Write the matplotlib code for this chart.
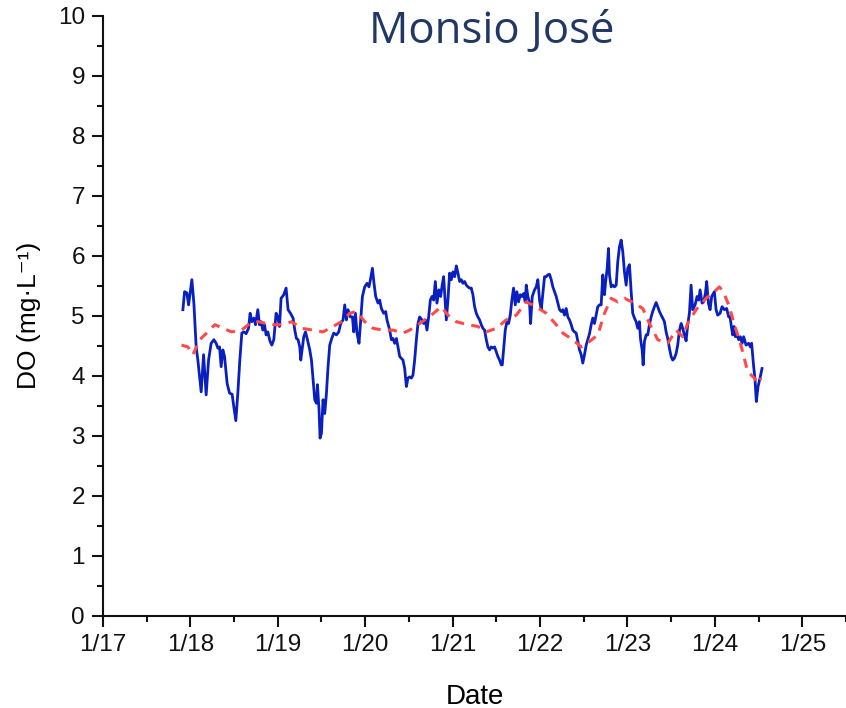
import numpy as np
import matplotlib
matplotlib.use("Agg")
import matplotlib.pyplot as plt
from matplotlib.ticker import MultipleLocator

plt.rcParams['font.family'] = ['Liberation Sans', 'DejaVu Sans']

# measured DO, time as years after 1 Jan 2017
do_t = 2017 + np.array([
    0.9143, 0.9337, 0.9600, 0.9794, 1.0171, 1.0400, 1.0663, 1.0857, 1.1234, 1.1509,
    1.1806, 1.2080, 1.2377, 1.2686, 1.2949, 1.3143, 1.3337, 1.3520, 1.3714, 1.3909,
    1.4206, 1.4480, 1.4777, 1.4971, 1.5200, 1.5429, 1.5657, 1.5886, 1.6114, 1.6377,
    1.6651, 1.6834, 1.7029, 1.7257, 1.7451, 1.7714, 1.7909, 1.8091, 1.8286, 1.8480,
    1.8663, 1.8857, 1.9120, 1.9314, 1.9543, 1.9806, 2.0000, 2.0194, 2.0377, 2.0686,
    2.0949, 2.1177, 2.1451, 2.1749, 2.1943, 2.2137, 2.2320, 2.2514, 2.2629, 2.2823,
    2.2971, 2.3166, 2.3394, 2.3657, 2.3851, 2.4034, 2.4229, 2.4423, 2.4537, 2.4720,
    2.4834, 2.4994, 2.5177, 2.5371, 2.5566, 2.5749, 2.5943, 2.6171, 2.6400, 2.6709,
    2.6971, 2.7200, 2.7463, 2.7657, 2.7851, 2.8034, 2.8309, 2.8537, 2.8686, 2.8880,
    2.9063, 2.9291, 2.9486, 2.9680, 2.9943, 3.0206, 3.0434, 3.0594, 3.0823, 3.1006,
    3.1200, 3.1463, 3.1657, 3.1851, 3.2114, 3.2343, 3.2491, 3.2800, 3.2994, 3.3177,
    3.3371, 3.3566, 3.3749, 3.3943, 3.4137, 3.4320, 3.4514, 3.4709, 3.4891, 3.5086,
    3.5280, 3.5463, 3.5657, 3.5851, 3.6034, 3.6229, 3.6491, 3.6686, 3.6880, 3.7063,
    3.7257, 3.7451, 3.7634, 3.7829, 3.8023, 3.8206, 3.8434, 3.8629, 3.8777, 3.8971,
    3.9166, 3.9280, 3.9463, 3.9657, 3.9851, 4.0034, 4.0229, 4.0423, 4.0606, 4.0800,
    4.0994, 4.1177, 4.1371, 4.1566, 4.1749, 4.1943, 4.2137, 4.2320, 4.2514, 4.2709,
    4.2891, 4.3086, 4.3280, 4.3463, 4.3657, 4.3851, 4.4034, 4.4229, 4.4423, 4.4606,
    4.4800, 4.4994, 4.5177, 4.5371, 4.5566, 4.5680, 4.5829, 4.6023, 4.6206, 4.6400,
    4.6594, 4.6777, 4.6971, 4.7166, 4.7349, 4.7543, 4.7737, 4.7920, 4.8114, 4.8309,
    4.8423, 4.8606, 4.8800, 4.8914, 4.9109, 4.9371, 4.9566, 4.9749, 4.9943, 5.0137,
    5.0320, 5.0514, 5.0709, 5.0891, 5.1086, 5.1280, 5.1463, 5.1657, 5.1851, 5.2034,
    5.2229, 5.2423, 5.2606, 5.2800, 5.2994, 5.3177, 5.3371, 5.3566, 5.3749, 5.3943,
    5.4137, 5.4320, 5.4514, 5.4709, 5.4891, 5.5086, 5.5280, 5.5463, 5.5657, 5.5851,
    5.6034, 5.6229, 5.6423, 5.6606, 5.6800, 5.6994, 5.7177, 5.7371, 5.7486, 5.7680,
    5.7829, 5.7943, 5.8137, 5.8320, 5.8514, 5.8709, 5.8891, 5.9086, 5.9280, 5.9463,
    5.9657, 5.9851, 6.0034, 6.0229, 6.0423, 6.0606, 6.0800, 6.0994, 6.1177, 6.1371,
    6.1486, 6.1680, 6.1794, 6.1943, 6.2137, 6.2320, 6.2514, 6.2709, 6.2891, 6.3086,
    6.3280, 6.3463, 6.3657, 6.3851, 6.4034, 6.4229, 6.4423, 6.4606, 6.4800, 6.4994,
    6.5177, 6.5371, 6.5566, 6.5749, 6.5943, 6.6137, 6.6320, 6.6514, 6.6709, 6.6891,
    6.7086, 6.7280, 6.7463, 6.7737, 6.7966, 6.8149, 6.8309, 6.8537, 6.8720, 6.8914,
    6.9063, 6.9257, 6.9451, 6.9634, 6.9943, 7.0137, 7.0320, 7.0594, 7.0823, 7.1086,
    7.1349, 7.1577, 7.1737, 7.1886, 7.2034, 7.2194, 7.2343, 7.2537, 7.2720, 7.2914,
    7.3109, 7.3291, 7.3566, 7.3863, 7.4057, 7.4206, 7.4400, 7.4594, 7.4743, 7.4937,
    7.5166, 7.5394])

do_val = np.array([
    5.10, 5.40, 5.38, 5.18, 5.60, 5.21, 4.48, 4.26, 3.73, 4.35,
    3.68, 4.26, 4.54, 4.60, 4.54, 4.46, 4.48, 4.15, 4.43, 4.32,
    3.87, 3.71, 3.69, 3.48, 3.25, 3.71, 4.26, 4.71, 4.73, 4.70,
    4.79, 5.04, 4.90, 4.96, 4.85, 5.10, 4.85, 4.90, 4.76, 4.85,
    4.68, 4.73, 4.57, 4.51, 4.60, 5.04, 4.98, 4.82, 5.29, 5.35,
    5.46, 5.10, 5.04, 4.96, 4.76, 4.62, 4.60, 4.48, 4.26, 4.48,
    4.65, 4.73, 4.60, 4.43, 4.26, 3.93, 3.60, 3.54, 3.85, 3.43,
    2.96, 3.04, 3.60, 3.37, 3.71, 4.15, 4.51, 4.62, 4.71, 4.68,
    4.73, 4.87, 4.93, 5.18, 4.93, 5.10, 4.98, 4.98, 4.73, 5.04,
    4.71, 4.54, 4.93, 5.32, 5.48, 5.54, 5.48, 5.60, 5.79, 5.54,
    5.32, 5.21, 5.26, 5.12, 5.04, 5.07, 4.93, 4.76, 4.60, 4.62,
    4.54, 4.62, 4.48, 4.32, 4.29, 4.26, 4.12, 3.82, 3.96, 3.98,
    3.96, 4.01, 4.26, 4.60, 4.87, 4.98, 4.93, 4.87, 4.93, 4.76,
    4.98, 5.26, 5.32, 5.26, 5.57, 5.21, 5.43, 5.32, 5.48, 5.65,
    5.21, 4.93, 5.26, 5.71, 5.60, 5.73, 5.65, 5.83, 5.71, 5.57,
    5.60, 5.54, 5.57, 5.51, 5.48, 5.46, 5.46, 5.35, 5.15, 5.04,
    4.98, 4.93, 4.85, 4.79, 4.76, 4.60, 4.48, 4.43, 4.48, 4.46,
    4.48, 4.40, 4.32, 4.26, 4.18, 4.18, 4.43, 4.76, 4.90, 4.87,
    5.01, 5.26, 5.46, 5.18, 5.40, 5.23, 5.35, 5.32, 5.37, 5.23,
    5.51, 5.32, 5.21, 4.87, 5.32, 5.43, 5.48, 5.60, 5.26, 5.10,
    5.37, 5.65, 5.65, 5.68, 5.69, 5.60, 5.48, 5.40, 5.32, 5.21,
    5.10, 5.07, 5.10, 5.01, 5.12, 4.98, 4.93, 4.85, 4.76, 4.73,
    4.71, 4.57, 4.43, 4.35, 4.21, 4.35, 4.51, 4.60, 4.70, 4.85,
    4.96, 4.87, 5.01, 5.15, 5.18, 5.18, 5.68, 5.35, 5.54, 5.79,
    6.12, 5.68, 5.48, 5.51, 5.48, 5.51, 5.90, 6.15, 6.26, 6.07,
    5.73, 5.51, 5.79, 5.85, 5.40, 5.04, 4.96, 4.90, 4.79, 4.90,
    4.62, 4.43, 4.18, 4.57, 4.68, 4.68, 4.85, 4.98, 5.07, 5.15,
    5.22, 5.15, 5.07, 5.01, 4.96, 4.90, 4.73, 4.62, 4.46, 4.32,
    4.26, 4.29, 4.37, 4.51, 4.75, 4.87, 4.79, 4.68, 4.58, 4.85,
    5.04, 5.51, 5.10, 5.18, 5.32, 5.26, 5.43, 5.21, 5.23, 5.37,
    5.57, 5.21, 5.10, 5.32, 5.40, 5.10, 5.01, 5.04, 5.15, 5.10,
    5.12, 4.98, 4.98, 4.82, 4.68, 4.82, 4.65, 4.68, 4.60, 4.65,
    4.54, 4.65, 4.51, 4.54, 4.48, 4.54, 4.21, 3.93, 3.57, 3.82,
    3.96, 4.12])

# smoothed / fitted curve (red dashed)
fit_t = 2017 + np.array([
    0.8994, 0.9714, 1.0286, 1.1086, 1.1851, 1.2800, 1.3749, 1.4709, 1.5851, 1.6800,
    1.7749, 1.8709, 1.9657, 2.0606, 2.1566, 2.2709, 2.4034, 2.5177, 2.6320, 2.7280,
    2.8229, 2.8994, 2.9943, 3.0891, 3.2034, 3.3177, 3.4320, 3.5086, 3.6229, 3.7566,
    3.8709, 3.9463, 4.0423, 4.1749, 4.2891, 4.3851, 4.4994, 4.6137, 4.7280, 4.8423,
    4.9566, 5.0709, 5.1851, 5.2606, 5.3749, 5.4709, 5.5657, 5.6606, 5.7371, 5.8137,
    5.8891, 5.9657, 6.0800, 6.1749, 6.2514, 6.3463, 6.4606, 6.5566, 6.6320, 6.6891,
    6.7851, 6.8994, 6.9943, 7.0514, 7.0971, 7.1657, 7.2229, 7.2800, 7.3177, 7.3749,
    7.4514, 7.4891, 7.5280])

fit_val = np.array([
    4.51, 4.48, 4.35, 4.60, 4.71, 4.85, 4.79, 4.73, 4.76, 4.87,
    4.90, 4.87, 4.85, 4.85, 4.90, 4.79, 4.76, 4.73, 4.82, 4.90,
    5.04, 5.07, 4.90, 4.79, 4.76, 4.76, 4.71, 4.76, 4.87, 5.01,
    5.15, 5.01, 4.90, 4.85, 4.82, 4.73, 4.79, 4.93, 5.01, 5.23,
    5.15, 5.04, 4.85, 4.71, 4.60, 4.48, 4.57, 4.68, 5.04, 5.29,
    5.23, 5.29, 5.21, 5.12, 4.87, 4.60, 4.54, 4.76, 4.65, 4.87,
    5.10, 5.29, 5.40, 5.48, 5.40, 5.15, 4.85, 4.60, 4.40, 4.07,
    3.96, 3.87, 3.96])

year_ticks = np.arange(2017, 2026)
year_labels = ['1/17', '1/18', '1/19', '1/20', '1/21', '1/22', '1/23', '1/24', '1/25']

fig = plt.figure(figsize=(8.46, 7.08), dpi=100)
ax = fig.add_axes([0.1217, 0.1304, 0.8783, 0.8474])

ax.plot(do_t, do_val, color='#0a1fc0', lw=2.0, zorder=2)
ax.plot(fit_t, fit_val, color='#ff4a4a', lw=2.2, ls=(0, (3.0, 2.4)), zorder=3)

ax.set_xlim(2017, 2025.5)
ax.set_ylim(0, 10)
ax.set_xticks(year_ticks)
ax.set_xticklabels(year_labels)
ax.xaxis.set_minor_locator(MultipleLocator(0.5))
ax.yaxis.set_major_locator(MultipleLocator(1))
ax.yaxis.set_minor_locator(MultipleLocator(0.5))

for s in ['top', 'right']:
    ax.spines[s].set_visible(False)
for s in ['left', 'bottom']:
    ax.spines[s].set_linewidth(1.5)
    ax.spines[s].set_color('#111111')

ax.tick_params(which='major', direction='out', length=8, width=1.5, labelsize=17.5,
               colors='#111111', pad=5)
ax.tick_params(which='minor', direction='out', length=4, width=1.5, colors='#111111')

ax.set_xlabel('Date', fontsize=20, labelpad=20)
ax.set_ylabel('DO (mg\u00b7L\u207b\u00b9)', fontsize=19, labelpad=12)

fig.text(0.5816, 0.955, 'Monsio José', fontsize=31.5, color='#1f3864',
         family=['Open Sans', 'DejaVu Sans'], ha='center', va='center')

fig.savefig('out.png', dpi=100)
